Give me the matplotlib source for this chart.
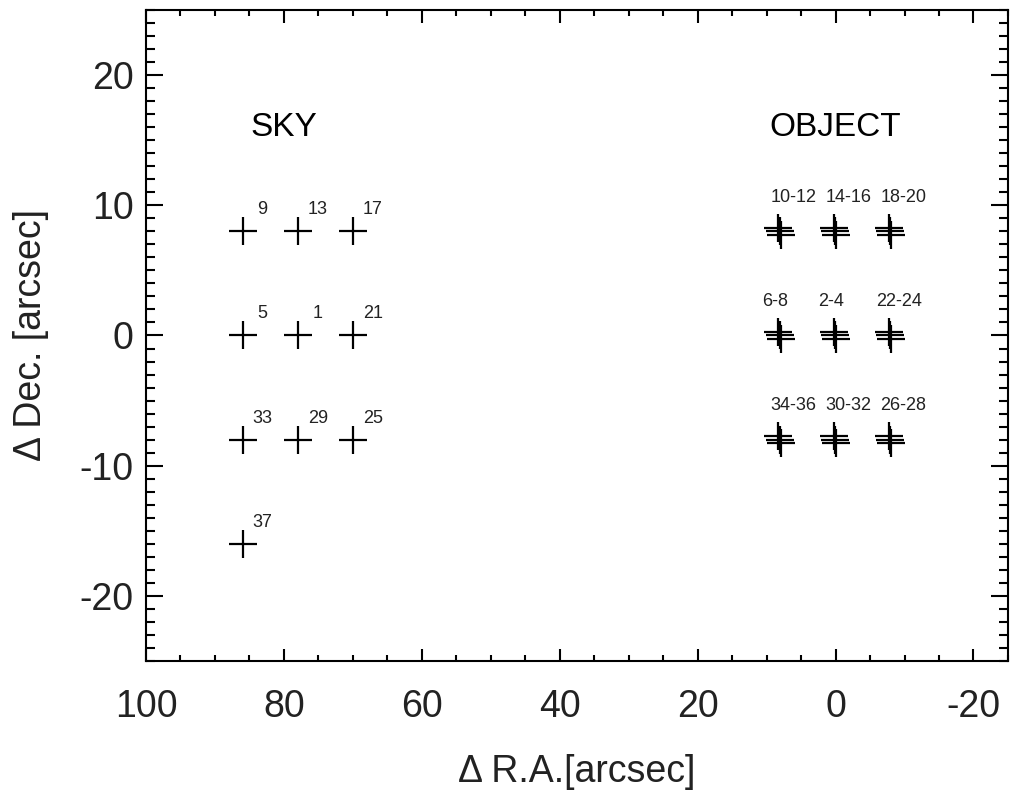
import matplotlib.pyplot as plt
from matplotlib.ticker import MultipleLocator

plt.rcParams['font.family'] = ['Liberation Sans', 'DejaVu Sans']
plt.rcParams['axes.unicode_minus'] = False

# sky pointings (single exposures)
sky_ra = [86, 78, 70, 86, 78, 70, 86, 78, 70, 86]
sky_dec = [8, 8, 8, 0, 0, 0, -8, -8, -8, -16]
sky_labels = ['9', '13', '17', '5', '1', '21', '33', '29', '25', '37']

# object pointings, each dithered three times
obj_ra = [8, 0, -8, 8, 0, -8, 8, 0, -8]
obj_dec = [8, 8, 8, 0, 0, 0, -8, -8, -8]
obj_labels = ['10-12', '14-16', '18-20', '6-8', '2-4', '22-24', '34-36', '30-32', '26-28']
dither_ra = [0.3, 0.1, -0.1]
dither_dec = [0.25, 0.0, -0.25]

fig = plt.figure(figsize=(10.11, 7.92), dpi=100)
ax = fig.add_axes([0.1444, 0.1654, 0.8526, 0.822])

mk = dict(marker='+', color='black', markersize=20, markeredgewidth=1.6, linestyle='none')

ax.plot(sky_ra, sky_dec, **mk)
for x, y, s in zip(sky_ra, sky_dec, sky_labels):
    ax.annotate(s, (x, y), xytext=(14.5, 15.5), textcoords='offset points',
                ha='center', va='center', fontsize=13, color='#222222')

for dx, dy in zip(dither_ra, dither_dec):
    ax.plot([x + dx for x in obj_ra], [y + dy for y in obj_dec], **mk)

# horizontal nudge of each object label, in points
obj_label_dx = [9.5, 9.5, 9.5, -3.5, -3.5, 6, 9.5, 9.5, 9]
for x, y, s, ddx in zip(obj_ra, obj_dec, obj_labels, obj_label_dx):
    ax.annotate(s, (x, y), xytext=(ddx, 24.5), textcoords='offset points',
                ha='center', va='center', fontsize=13, color='#222222')

ax.text(80, 16, 'SKY', ha='center', va='center', fontsize=24)
ax.text(0, 16, 'OBJECT', ha='center', va='center', fontsize=24)

ax.set_xlim(100, -25)
ax.set_ylim(-25, 25)
ax.xaxis.set_major_locator(MultipleLocator(20))
ax.xaxis.set_minor_locator(MultipleLocator(5))
ax.yaxis.set_major_locator(MultipleLocator(10))
ax.yaxis.set_minor_locator(MultipleLocator(1))

ax.tick_params(axis='both', which='both', direction='in', top=True, right=True,
               width=1.5, colors='black', labelcolor='#222222')
ax.tick_params(axis='x', which='major', length=9, pad=20, labelsize=27)
ax.tick_params(axis='x', which='minor', length=4.5)
ax.tick_params(axis='y', which='major', length=12.5, pad=9, labelsize=27)
ax.tick_params(axis='y', which='minor', length=6.5)
for sp in ax.spines.values():
    sp.set_linewidth(1.5)

ax.set_xlabel('\u0394 R.A.[arcsec]', fontsize=27, color='#222222', labelpad=21)
ax.set_ylabel('\u0394 Dec. [arcsec]', fontsize=27, color='#222222', labelpad=22)

fig.savefig('out.png', dpi=100)
